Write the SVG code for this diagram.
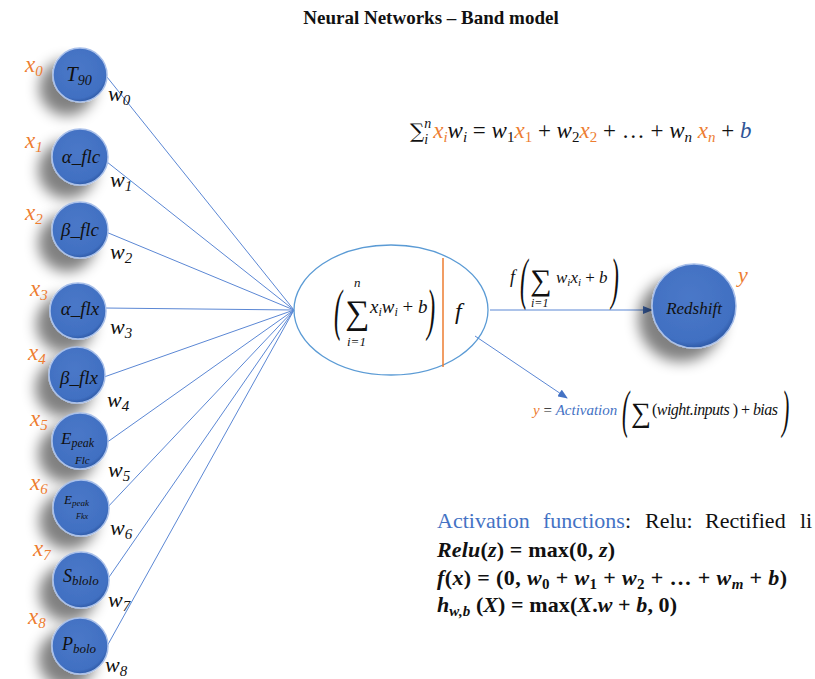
<svg xmlns="http://www.w3.org/2000/svg" width="815" height="679" viewBox="0 0 815 679">
<defs>
<filter id="sh" x="-80%" y="-80%" width="260%" height="260%">
<feGaussianBlur in="SourceAlpha" stdDeviation="7"/>
<feOffset dx="-13" dy="13" result="b"/>
<feComponentTransfer><feFuncA type="linear" slope="0.5"/></feComponentTransfer>
<feMerge><feMergeNode/><feMergeNode in="SourceGraphic"/></feMerge>
</filter>
<radialGradient id="g" cx="45%" cy="40%" r="60%">
<stop offset="0" stop-color="#4A78C8"/>
<stop offset="0.88" stop-color="#4170C2"/>
<stop offset="1" stop-color="#2F5BA8"/>
</radialGradient>
<marker id="ar" markerWidth="10" markerHeight="8" refX="9" refY="4" orient="auto" markerUnits="userSpaceOnUse">
<path d="M0,0 L10,4 L0,8 z" fill="#4472C4"/>
</marker>
</defs>
<style>
.n{fill:url(#g);stroke:#A9C0EA;stroke-width:1.5;filter:url(#sh)}
.lbl{font-family:"Liberation Serif",serif;font-style:italic;fill:#111}
.x{font-family:"Liberation Serif",serif;font-style:italic;fill:#ED7D31}
.w{font-family:"Liberation Serif",serif;font-style:italic;fill:#111}
.m{font-family:"Liberation Serif",serif;font-style:italic;fill:#111}
.c{stroke:#5B87D4;stroke-width:1;fill:none}
.t{font-family:"Liberation Serif",serif;fill:#111}
</style>
<text x="431" y="24" text-anchor="middle" class="t" font-weight="bold" font-size="19">Neural Networks – Band model</text>

<g id="connectors">
<line class="c" x1="107" y1="77" x2="294" y2="310"/>
<line class="c" x1="107" y1="162" x2="294" y2="310"/>
<line class="c" x1="106" y1="232" x2="294" y2="310"/>
<line class="c" x1="104" y1="308" x2="294" y2="310"/>
<line class="c" x1="104" y1="377" x2="294" y2="310"/>
<line class="c" x1="106" y1="443" x2="294" y2="310"/>
<line class="c" x1="105" y1="510" x2="294" y2="310"/>
<line class="c" x1="107" y1="580" x2="294" y2="310"/>
<line class="c" x1="106" y1="648" x2="294" y2="310"/>
<line class="c" x1="490" y1="310" x2="652" y2="310" marker-end="url(#ar)"/>
<line class="c" x1="475" y1="336" x2="567" y2="398" marker-end="url(#ar)"/>
</g>

<g id="n0"><circle class="n" cx="80" cy="75" r="27"/><text class="lbl" x="66" y="81" font-size="21">T<tspan font-size="14" dy="4">90</tspan></text><text class="x" x="25" y="72" font-size="23">x<tspan font-size="15" dy="4">0</tspan></text><text class="w" x="108" y="101" font-size="22">w<tspan font-size="15" dy="4">0</tspan></text></g>
<g id="n1"><circle class="n" cx="80" cy="157" r="28"/><text class="lbl" x="81" y="163" text-anchor="middle" font-size="19">α_flc</text><text class="x" x="25" y="148" font-size="23">x<tspan font-size="15" dy="4">1</tspan></text><text class="w" x="110" y="187" font-size="22">w<tspan font-size="15" dy="4">1</tspan></text></g>
<g id="n2"><circle class="n" cx="80" cy="230" r="28"/><text class="lbl" x="80" y="236" text-anchor="middle" font-size="19">β_flc</text><text class="x" x="25" y="220" font-size="23">x<tspan font-size="15" dy="4">2</tspan></text><text class="w" x="110" y="259" font-size="22">w<tspan font-size="15" dy="4">2</tspan></text></g>
<g id="n3"><circle class="n" cx="78" cy="311" r="28"/><text class="lbl" x="80" y="315" text-anchor="middle" font-size="19">α_flx</text><text class="x" x="30" y="296" font-size="23">x<tspan font-size="15" dy="4">3</tspan></text><text class="w" x="110" y="334" font-size="22">w<tspan font-size="15" dy="4">3</tspan></text></g>
<g id="n4"><circle class="n" cx="77" cy="375" r="28"/><text class="lbl" x="79" y="384" text-anchor="middle" font-size="19">β_flx</text><text class="x" x="28" y="360" font-size="23">x<tspan font-size="15" dy="4">4</tspan></text><text class="w" x="107" y="407" font-size="22">w<tspan font-size="15" dy="4">4</tspan></text></g>
<g id="n5"><circle class="n" cx="80" cy="441" r="28"/><text class="lbl" x="61" y="444" font-size="17">E<tspan font-size="12" dy="3">peak</tspan></text><text class="lbl" x="75" y="464" font-size="11">Flc</text><text class="x" x="30" y="426" font-size="23">x<tspan font-size="15" dy="4">5</tspan></text><text class="w" x="108" y="477" font-size="22">w<tspan font-size="15" dy="4">5</tspan></text></g>
<g id="n6"><circle class="n" cx="81" cy="508" r="28"/><text class="lbl" x="64" y="504" font-size="13">E<tspan font-size="9" dy="2">peak</tspan></text><text class="lbl" x="76" y="519" font-size="8">Fkx</text><text class="x" x="30" y="490" font-size="23">x<tspan font-size="15" dy="4">6</tspan></text><text class="w" x="110" y="535" font-size="22">w<tspan font-size="15" dy="4">6</tspan></text></g>
<g id="n7"><circle class="n" cx="81" cy="580" r="28"/><text class="lbl" x="63" y="582" font-size="18">S<tspan font-size="13" dy="3">blolo</tspan></text><text class="x" x="33" y="556" font-size="23">x<tspan font-size="15" dy="4">7</tspan></text><text class="w" x="108" y="607" font-size="22">w<tspan font-size="15" dy="4">7</tspan></text></g>
<g id="n8"><circle class="n" cx="80" cy="646" r="28"/><text class="lbl" x="62" y="650" font-size="18">P<tspan font-size="13" dy="3">bolo</tspan></text><text class="x" x="28" y="624" font-size="23">x<tspan font-size="15" dy="4">8</tspan></text><text class="w" x="105" y="672" font-size="22">w<tspan font-size="15" dy="4">8</tspan></text></g>

<g id="sum">
<ellipse cx="391" cy="310" rx="97" ry="65" fill="none" stroke="#5B9BD5" stroke-width="1.3"/>
<line x1="443" y1="258" x2="443" y2="367" stroke="#ED7D31" stroke-width="1.5"/>
<text class="m" transform="translate(334,329) scale(0.42,1)" font-size="58" font-style="normal">(</text>
<text class="m" x="357" y="324" font-size="34" font-style="normal" text-anchor="middle" font-family="DejaVu Serif">∑</text>
<text class="m" x="354" y="287" font-size="13">n</text>
<text class="m" x="347" y="346" font-size="13">i=1</text>
<text class="m" x="370" y="313" font-size="19">x<tspan font-size="12" dy="3">i</tspan><tspan dy="-3">w</tspan><tspan font-size="12" dy="3">i</tspan><tspan dy="-3" font-style="normal"> + </tspan>b</text>
<text class="m" transform="translate(427,329) scale(0.42,1)" font-size="58" font-style="normal">)</text>
<text class="m" x="455" y="319" font-size="24">f</text>
</g>

<g id="redshift">
<circle class="n" cx="694" cy="306" r="42"/>
<text class="lbl" x="694" y="314" text-anchor="middle" font-size="17">Redshift</text>
<text class="x" x="738" y="282" font-size="22">y</text>
</g>

<g id="flabel">
<text class="m" x="510" y="283" font-size="18">f</text>
<text class="m" transform="translate(520,298) scale(0.42,1)" font-size="56" font-style="normal">(</text>
<text class="m" x="541" y="290" font-size="30" font-style="normal" text-anchor="middle" font-family="DejaVu Serif">∑</text>
<text class="m" x="531" y="307" font-size="12">i=1</text>
<text class="m" x="556" y="283" font-size="17">w<tspan font-size="11" dy="3">i</tspan><tspan dy="-3">x</tspan><tspan font-size="11" dy="3">i</tspan><tspan dy="-3" font-style="normal"> + </tspan>b</text>
<text class="m" transform="translate(611,298) scale(0.42,1)" font-size="56" font-style="normal">)</text>
</g>

<g id="activation">
<text class="m" x="533" y="415" font-size="15"><tspan fill="#ED7D31">y</tspan><tspan font-style="normal"> = </tspan><tspan fill="#4472C4">Activation</tspan></text>
<text class="m" transform="translate(622,427) scale(0.42,1)" font-size="52" font-style="normal">(</text>
<text class="m" x="641" y="422" font-size="28" font-style="normal" text-anchor="middle" font-family="DejaVu Serif">∑</text>
<text class="m" x="652" y="415" font-size="16" textLength="126"><tspan font-style="normal">(</tspan>wight.inputs <tspan font-style="normal">) + </tspan>bias</text>
<text class="m" transform="translate(782,427) scale(0.42,1)" font-size="52" font-style="normal">)</text>
</g>

<g id="toptext">
<text class="m" x="410" y="138" font-size="23"><tspan font-style="normal" font-family="DejaVu Serif" font-size="20">∑</tspan><tspan font-size="14" dy="-10">n</tspan><tspan font-size="14" dx="-7" dy="16">i</tspan><tspan dy="-6" dx="5" fill="#ED7D31">x</tspan><tspan font-size="15" dy="4" fill="#ED7D31">i</tspan><tspan dy="-4">w</tspan><tspan font-size="15" dy="4">i</tspan><tspan dy="-4" font-style="normal"> = </tspan>w<tspan font-size="15" dy="4" font-style="normal">1</tspan><tspan dy="-4" fill="#ED7D31">x</tspan><tspan font-size="15" dy="4" font-style="normal" fill="#ED7D31">1</tspan><tspan dy="-4" font-style="normal"> + </tspan>w<tspan font-size="15" dy="4" font-style="normal">2</tspan><tspan dy="-4" fill="#ED7D31">x</tspan><tspan font-size="15" dy="4" font-style="normal" fill="#ED7D31">2</tspan><tspan dy="-4" font-style="normal"> +  … + </tspan>w<tspan font-size="15" dy="4">n</tspan><tspan dy="-4" fill="#ED7D31"> x</tspan><tspan font-size="15" dy="4" fill="#ED7D31">n</tspan><tspan dy="-4" font-style="normal"> + </tspan><tspan fill="#2F5597">b</tspan></text>
</g>

<g id="bottomtext">
<text class="t" y="528" font-size="22"><tspan x="437" fill="#4472C4">Activation</tspan><tspan x="543" fill="#4472C4">functions</tspan><tspan>:</tspan><tspan x="645">Relu:</tspan><tspan x="705">Rectified</tspan><tspan x="800">li</tspan></text>
<text class="t" x="437" y="557" font-size="22" font-weight="bold" textLength="178"><tspan font-style="italic">Relu</tspan>(<tspan font-style="italic">z</tspan>) = max(0, <tspan font-style="italic">z</tspan>)</text>
<text class="t" x="437" y="585" font-size="22" font-weight="bold" textLength="350"><tspan font-style="italic">f</tspan>(<tspan font-style="italic">x</tspan>) = (0, <tspan font-style="italic">w</tspan><tspan font-size="15" dy="4">0</tspan><tspan dy="-4"> + </tspan><tspan font-style="italic">w</tspan><tspan font-size="15" dy="4">1</tspan><tspan dy="-4"> + </tspan><tspan font-style="italic">w</tspan><tspan font-size="15" dy="4">2</tspan><tspan dy="-4"> +  … + </tspan><tspan font-style="italic">w</tspan><tspan font-size="15" dy="4" font-style="italic">m</tspan><tspan dy="-4"> + </tspan><tspan font-style="italic">b</tspan>)</text>
<text class="t" x="437" y="612" font-size="22" font-weight="bold" textLength="240"><tspan font-style="italic">h</tspan><tspan font-size="15" dy="4" font-style="italic">w,b</tspan><tspan dy="-4"> (</tspan><tspan font-style="italic">X</tspan>) = max(<tspan font-style="italic">X</tspan>.<tspan font-style="italic">w</tspan> + <tspan font-style="italic">b</tspan>, 0)</text>
</g>
</svg>
